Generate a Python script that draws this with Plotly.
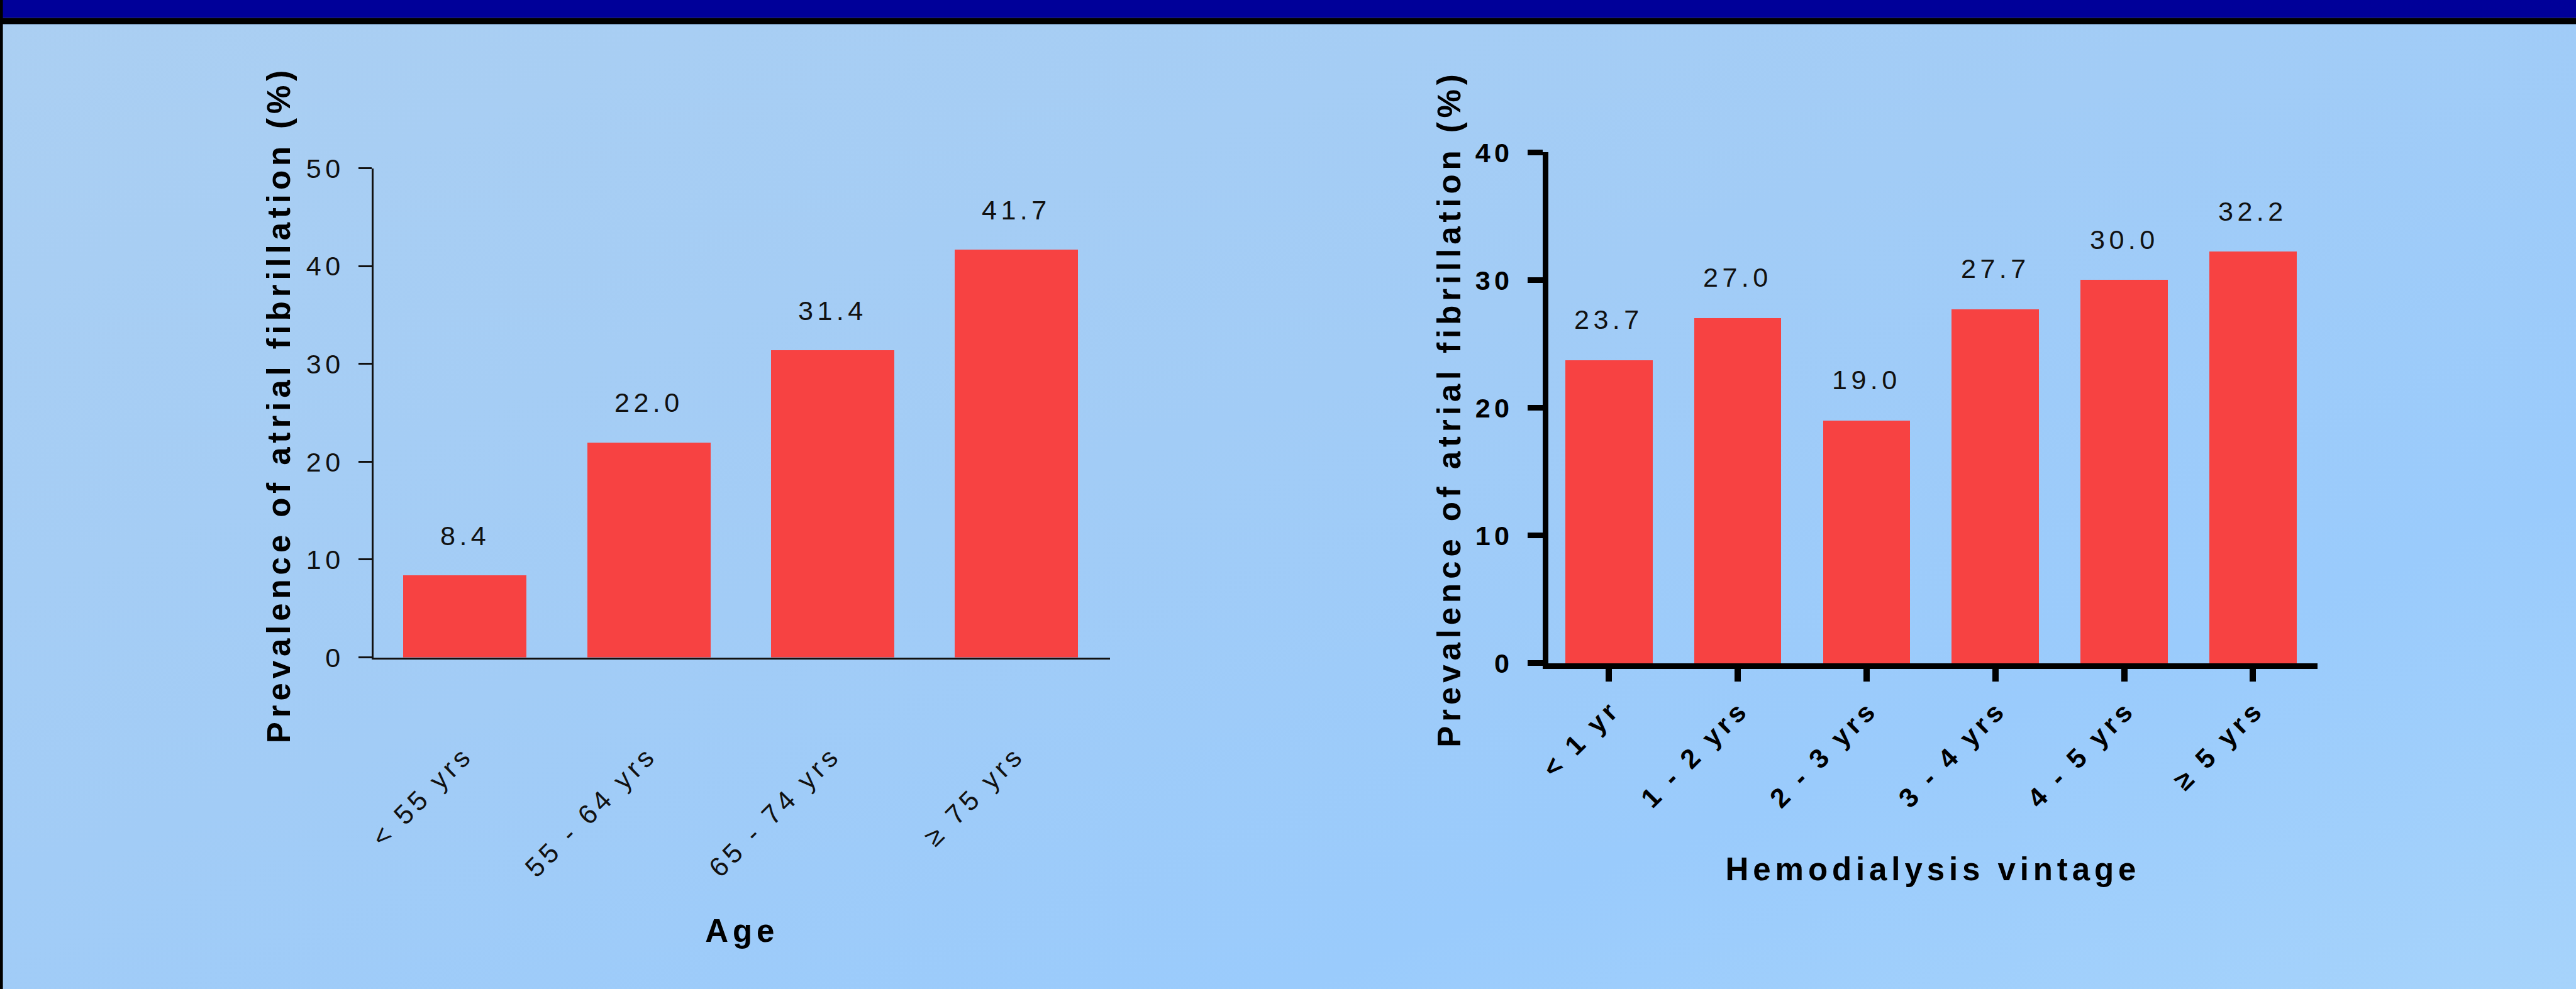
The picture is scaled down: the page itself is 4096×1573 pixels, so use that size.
import base64
import plotly.graph_objects as go

# ---------------- data ----------------
age_categories = ["< 55 yrs", "55 - 64 yrs", "65 - 74 yrs", "≥ 75 yrs"]
age_values = [8.4, 22.0, 31.4, 41.7]
age_yticks = [0, 10, 20, 30, 40, 50]

vintage_categories = ["< 1 yr", "1 - 2 yrs", "2 - 3 yrs", "3 - 4 yrs", "4 - 5 yrs", "≥ 5 yrs"]
vintage_values = [23.7, 27.0, 19.0, 27.7, 30.0, 32.2]
vintage_yticks = [0, 10, 20, 30, 40]

y_title = "Prevalence of atrial fibrillation (%)"
age_title = "Age"
vintage_title = "Hemodialysis vintage"

# ---------------- geometry helpers ----------------
W, H = 4096, 1573
S = W / 4174.0


def fx(px):
    return px * S / W


def fy(py):
    return 1 - py * S / H


def spaced(txt, ls):
    return '<span style="letter-spacing:%.1fpx">%s</span>' % (ls, txt)


FONT = "Liberation Sans, Arial, sans-serif"
BAR = "#F74242"
TXT = "#111111"
LS_TICK = 6.5 * S
LS_TITLE = 7.0 * S
TICK_SIZE = 44 * S
TITLE_SIZE = 52 * S

fig = go.Figure()

fig.add_trace(go.Bar(
    x=list(range(len(age_categories))), y=age_values,
    marker=dict(color=BAR, line=dict(width=0)), width=0.671,
    xaxis="x", yaxis="y", hoverinfo="skip", showlegend=False,
))
fig.add_trace(go.Bar(
    x=list(range(len(vintage_categories))), y=vintage_values,
    marker=dict(color=BAR, line=dict(width=0)), width=0.677,
    xaxis="x2", yaxis="y2", hoverinfo="skip", showlegend=False,
))

annotations = []
for i, v in enumerate(age_values):
    annotations.append(dict(
        x=i, y=v, xref="x", yref="y", text=spaced("%.1f" % v, LS_TICK),
        showarrow=False, yanchor="bottom", xanchor="center", yshift=37,
        font=dict(family=FONT, size=TICK_SIZE, color=TXT),
    ))
for i, v in enumerate(vintage_values):
    annotations.append(dict(
        x=i, y=v, xref="x2", yref="y2", text=spaced("%.1f" % v, LS_TICK),
        showarrow=False, yanchor="bottom", xanchor="center", yshift=39,
        font=dict(family=FONT, size=TICK_SIZE, color=TXT),
    ))

# y-axis titles (rotated), placed to match the reference
for cx, cy in [(452, 656), (2348, 663)]:
    annotations.append(dict(
        x=fx(cx), y=fy(cy), xref="paper", yref="paper", text=spaced(y_title, LS_TITLE),
        textangle=-90, showarrow=False, xanchor="center", yanchor="middle",
        font=dict(family=FONT, size=TITLE_SIZE, color="#000", weight="bold"),
    ))

# background gradient (diagonal) as an inline SVG image
svg = (
    "<svg xmlns='http://www.w3.org/2000/svg' width='4096' height='1573' preserveAspectRatio='none'>"
    "<defs><linearGradient id='g' x1='0' y1='0' x2='1' y2='1'>"
    "<stop offset='0' stop-color='#ABCFF2'/>"
    "<stop offset='0.45' stop-color='#A2CCF6'/>"
    "<stop offset='0.75' stop-color='#9ACBFC'/>"
    "<stop offset='1' stop-color='#A6D3FB'/>"
    "</linearGradient></defs>"
    "<rect x='0' y='0' width='4096' height='1573' fill='url(#g)'/></svg>"
)
svg_uri = "data:image/svg+xml;base64," + base64.b64encode(svg.encode()).decode()

shapes = [
    dict(type="rect", xref="paper", yref="paper", x0=0, x1=1, y0=fy(29), y1=1,
         fillcolor="#000099", line=dict(width=0), layer="above"),
    dict(type="rect", xref="paper", yref="paper", x0=0, x1=1, y0=fy(39), y1=fy(29),
         fillcolor="#000000", line=dict(width=0), layer="above"),
    dict(type="line", xref="paper", yref="paper", x0=0, x1=1, y0=fy(39.8), y1=fy(39.8),
         line=dict(color="#6F8FB0", width=1), layer="above"),
    dict(type="rect", xref="paper", yref="paper", x0=0, x1=fx(4.7), y0=0, y1=1,
         fillcolor="#000000", line=dict(width=0), layer="above"),
]

fig.update_layout(
    width=W, height=H,
    autosize=False,
    margin=dict(l=0, r=0, t=0, b=0, pad=0, autoexpand=False),
    paper_bgcolor="#A2CCF6",
    plot_bgcolor="rgba(0,0,0,0)",
    showlegend=False,
    bargap=0,
    images=[dict(source=svg_uri, xref="paper", yref="paper", x=0, y=1, sizex=1, sizey=1,
                 sizing="stretch", layer="below", xanchor="left", yanchor="top")],
    shapes=shapes,
    annotations=annotations,
    xaxis=dict(
        domain=[fx(605.3), fx(1799)], range=[-0.497, 3.51], anchor="y", automargin=False,
        showline=True, linecolor="#111", linewidth=2.6, showgrid=False, zeroline=False,
        ticks="", tickmode="array", tickvals=list(range(len(age_categories))),
        ticktext=[spaced(c, LS_TICK) for c in age_categories], tickangle=-45,
        tickfont=dict(family=FONT, size=TICK_SIZE, color=TXT),
        ticklabelstandoff=110,
        title=dict(text=spaced(age_title, LS_TITLE), standoff=60,
                   font=dict(family=FONT, size=TITLE_SIZE, color="#000", weight="bold")),
    ),
    yaxis=dict(
        domain=[fy(1065.5), fy(272.7)], range=[0, 50], anchor="x", automargin=False,
        showline=True, linecolor="#111", linewidth=2.6, showgrid=False, zeroline=False,
        ticks="outside", ticklen=21, tickwidth=2.6, tickcolor="#111",
        tickmode="array", tickvals=age_yticks,
        ticktext=[spaced(str(t), LS_TICK) for t in age_yticks],
        tickfont=dict(family=FONT, size=TICK_SIZE, color=TXT),
        ticklabelstandoff=14,
    ),
    xaxis2=dict(
        domain=[fx(2509), fx(3755)], range=[-0.47, 5.5], anchor="y2", automargin=False,
        showline=True, linecolor="#000", linewidth=9, showgrid=False, zeroline=False,
        ticks="outside", ticklen=20, tickwidth=9.5, tickcolor="#000",
        tickmode="array", tickvals=list(range(len(vintage_categories))),
        ticktext=[spaced(c, LS_TICK) for c in vintage_categories], tickangle=-45,
        tickfont=dict(family=FONT, size=TICK_SIZE, color="#000", weight="bold"),
        ticklabelstandoff=2, ticklabelshift=5,
        title=dict(text=spaced(vintage_title, LS_TITLE), standoff=75,
                   font=dict(family=FONT, size=TITLE_SIZE, color="#000", weight="bold")),
    ),
    yaxis2=dict(
        domain=[fy(1075), fy(247)], range=[0, 40], anchor="x2", automargin=False,
        showline=True, linecolor="#000", linewidth=9, showgrid=False, zeroline=False,
        ticks="outside", ticklen=24, tickwidth=9, tickcolor="#000",
        tickmode="array", tickvals=vintage_yticks,
        ticktext=[spaced(str(t), LS_TICK) for t in vintage_yticks],
        tickfont=dict(family=FONT, size=TICK_SIZE, color="#000", weight="bold"),
        ticklabelstandoff=14,
    ),
)

fig.write_html("out.html")
